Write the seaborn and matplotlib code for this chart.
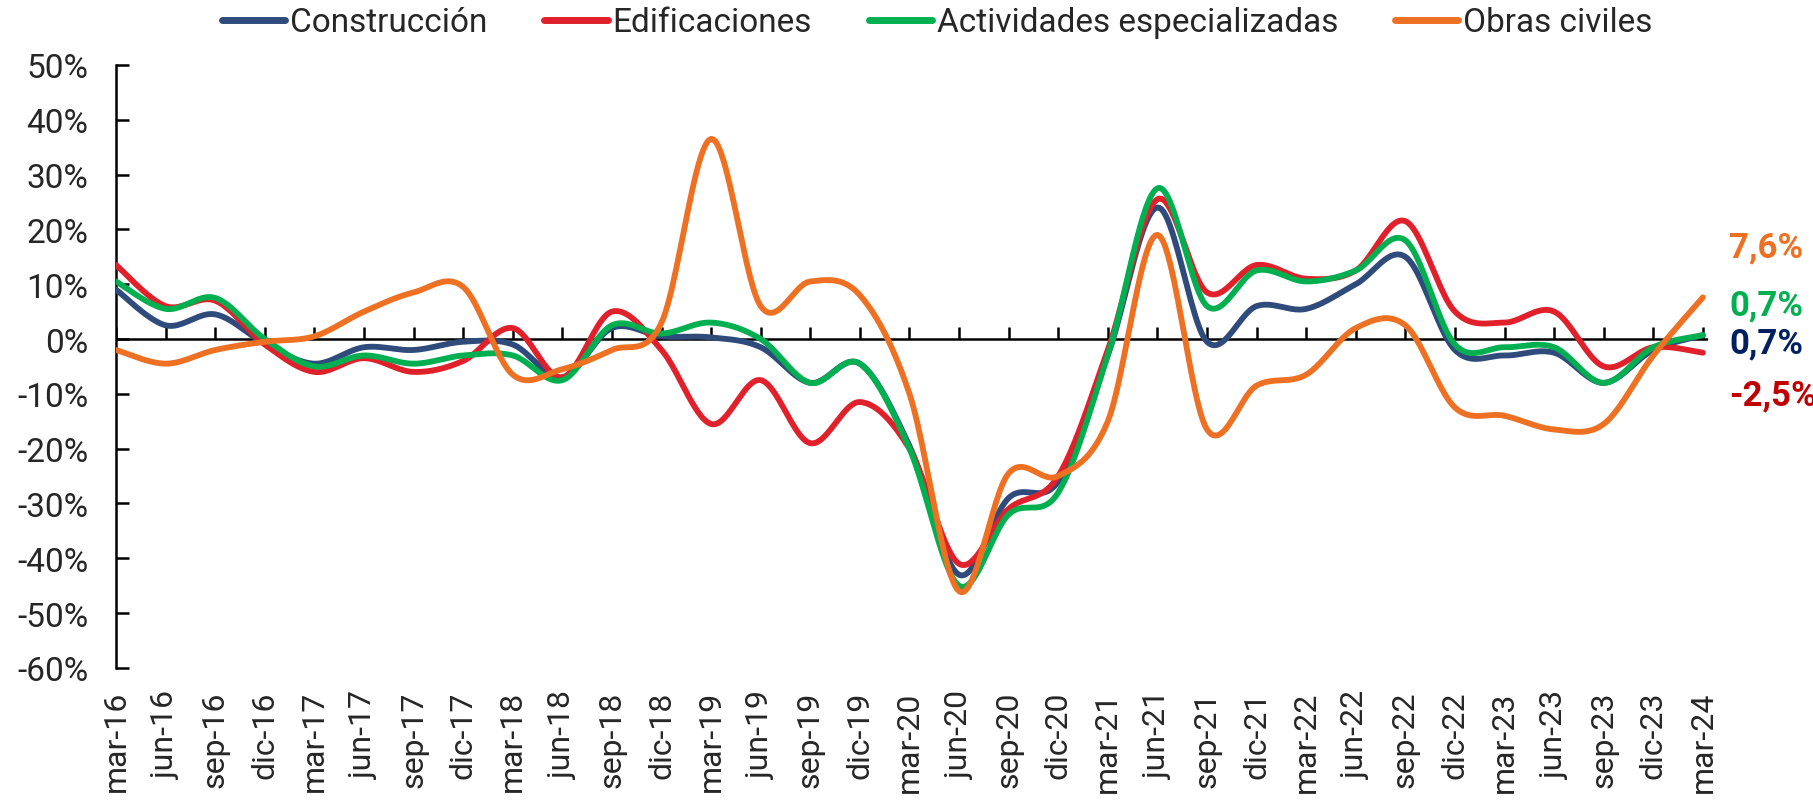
import numpy as np
import pandas as pd
import seaborn as sns
import matplotlib.pyplot as plt
from matplotlib.lines import Line2D

quarters = ["mar-16", "jun-16", "sep-16", "dic-16", "mar-17", "jun-17", "sep-17", "dic-17",
            "mar-18", "jun-18", "sep-18", "dic-18", "mar-19", "jun-19", "sep-19", "dic-19",
            "mar-20", "jun-20", "sep-20", "dic-20", "mar-21", "jun-21", "sep-21", "dic-21",
            "mar-22", "jun-22", "sep-22", "dic-22", "mar-23", "jun-23", "sep-23", "dic-23",
            "mar-24"]

# variacion anual (%)
construccion = [9, 2.5, 4.5, -0.8, -4.5, -1.5, -2, -0.5, -1, -7, 2, 0.5,
                0.3, -1.5, -8, -4.5, -19.5, -43, -29, -26, -3, 24, -0.5, 6,
                5.5, 10, 15, -2, -3, -2.5, -8, -2, 0.7]
edificaciones = [13.5, 6, 7, -1, -6, -3.5, -6, -4, 2, -7, 5, -2,
                 -15.5, -7.5, -19, -11.5, -20, -41, -31, -25, -2, 25.5, 8.5, 13.5,
                 11, 12.5, 21.5, 5, 3, 5, -5, -1.5, -2.5]
actividades = [10.5, 5.5, 7.5, 0, -5, -3, -4.5, -3, -3, -7.5, 2.5, 1,
               3, 0, -8, -4.5, -20, -45, -32, -28, -3, 27.5, 6, 12.5,
               10.5, 12.5, 18, -1, -1.5, -1.5, -8, -1.5, 0.7]
obras_civiles = [-2, -4.5, -2, -0.5, 0.5, 5, 8.5, 9.5, -6.5, -5.5, -2, 3,
                 36.5, 6, 10.5, 8, -10, -46, -24.5, -25, -15, 19, -16.5, -8.5,
                 -6.5, 2, 2.5, -12.5, -14, -16.5, -15.5, -3, 7.6]

series_names = ["Construcción", "Edificaciones", "Actividades especializadas", "Obras civiles"]
line_colors = ["#2E4B7C", "#E0202B", "#00B050", "#EE7023"]
label_colors = ["#002060", "#C00000", "#00B050", "#EE7023"]
label_text = ["0,7%", "-2,5%", "0,7%", "7,6%"]
label_offset = [-8, -42, 30, 50]  # px, vertical shift of the end labels


def smooth_curve(values, steps=24):
    # excel-style smoothed line (bezier through every point)
    y = np.asarray(values, dtype=float)
    pts = np.column_stack([np.arange(len(y), dtype=float), y])
    padded = np.vstack([pts[0], pts, pts[-1]])
    t = np.linspace(0, 1, steps, endpoint=False)[:, None]
    out = []
    for i in range(len(pts) - 1):
        p0, p3 = padded[i + 1], padded[i + 2]
        p1 = p0 + (padded[i + 2] - padded[i]) / 6
        p2 = p3 - (padded[i + 3] - padded[i + 1]) / 6
        seg = (1 - t) ** 3 * p0 + 3 * (1 - t) ** 2 * t * p1 + 3 * (1 - t) * t ** 2 * p2 + t ** 3 * p3
        out.append(seg)
    out.append(pts[-1:])
    return np.vstack(out)


def build_frame():
    frames = []
    for name, vals in zip(series_names, [construccion, edificaciones, actividades, obras_civiles]):
        curve = smooth_curve(vals)
        frames.append(pd.DataFrame({"x": curve[:, 0], "y": curve[:, 1], "serie": name}))
    return pd.concat(frames, ignore_index=True)


def main():
    sns.set_theme(style="white")
    plt.rcParams["font.family"] = ["Roboto", "DejaVu Sans"]

    fig = plt.figure(figsize=(18.13, 8.04), dpi=100)
    ax = fig.add_axes([0.064, 0.168, 0.878, 0.75])

    df = build_frame()
    ax.axhline(0, color="black", lw=1.8, zorder=1)
    idx = np.arange(len(quarters))
    ax.plot(idx, np.zeros(len(idx)), ls="none", marker=2, ms=9, mew=1.8, color="black", zorder=1)

    sns.lineplot(data=df, x="x", y="y", hue="serie", hue_order=series_names,
                 palette=line_colors, sort=False, estimator=None, lw=4.2, ax=ax,
                 legend=False, zorder=3)
    for line in ax.lines[1:]:
        line.set_solid_capstyle("round")

    series = [construccion, edificaciones, actividades, obras_civiles]
    for vals, txt, col, off in zip(series, label_text, label_colors, label_offset):
        ax.annotate(txt, xy=(len(vals) - 1, vals[-1]), xytext=(26, off),
                    textcoords="offset pixels", ha="left", va="center",
                    fontsize=25, fontweight="bold", color=col, annotation_clip=False)

    ax.set_xlim(0, 32.1)
    ax.set_ylim(-60, 50)
    ax.set_yticks(range(-60, 51, 10))
    ax.set_yticklabels([f"{v}%" for v in range(-60, 51, 10)])
    ax.set_xticks(idx)
    ax.set_xticklabels(quarters, rotation=90)
    ax.set_xlabel("")
    ax.set_ylabel("")

    for side in ["top", "right", "bottom"]:
        ax.spines[side].set_visible(False)
    ax.spines["left"].set_color("black")
    ax.spines["left"].set_linewidth(1.8)
    ax.tick_params(axis="y", direction="in", length=9, width=1.8, color="black",
                   labelsize=24, pad=20, left=True)
    ax.tick_params(axis="x", length=0, labelsize=23, pad=16, bottom=False)

    handles = [Line2D([0], [0], color=c, lw=5, solid_capstyle="round") for c in line_colors]
    fig.legend(handles, series_names, loc="upper center", bbox_to_anchor=(0.517, 1.028),
               ncol=4, frameon=False, fontsize=24, handlelength=1.9, handletextpad=0.15,
               columnspacing=1.7)

    fig.savefig("out.png", dpi=100)


if __name__ == "__main__":
    main()
